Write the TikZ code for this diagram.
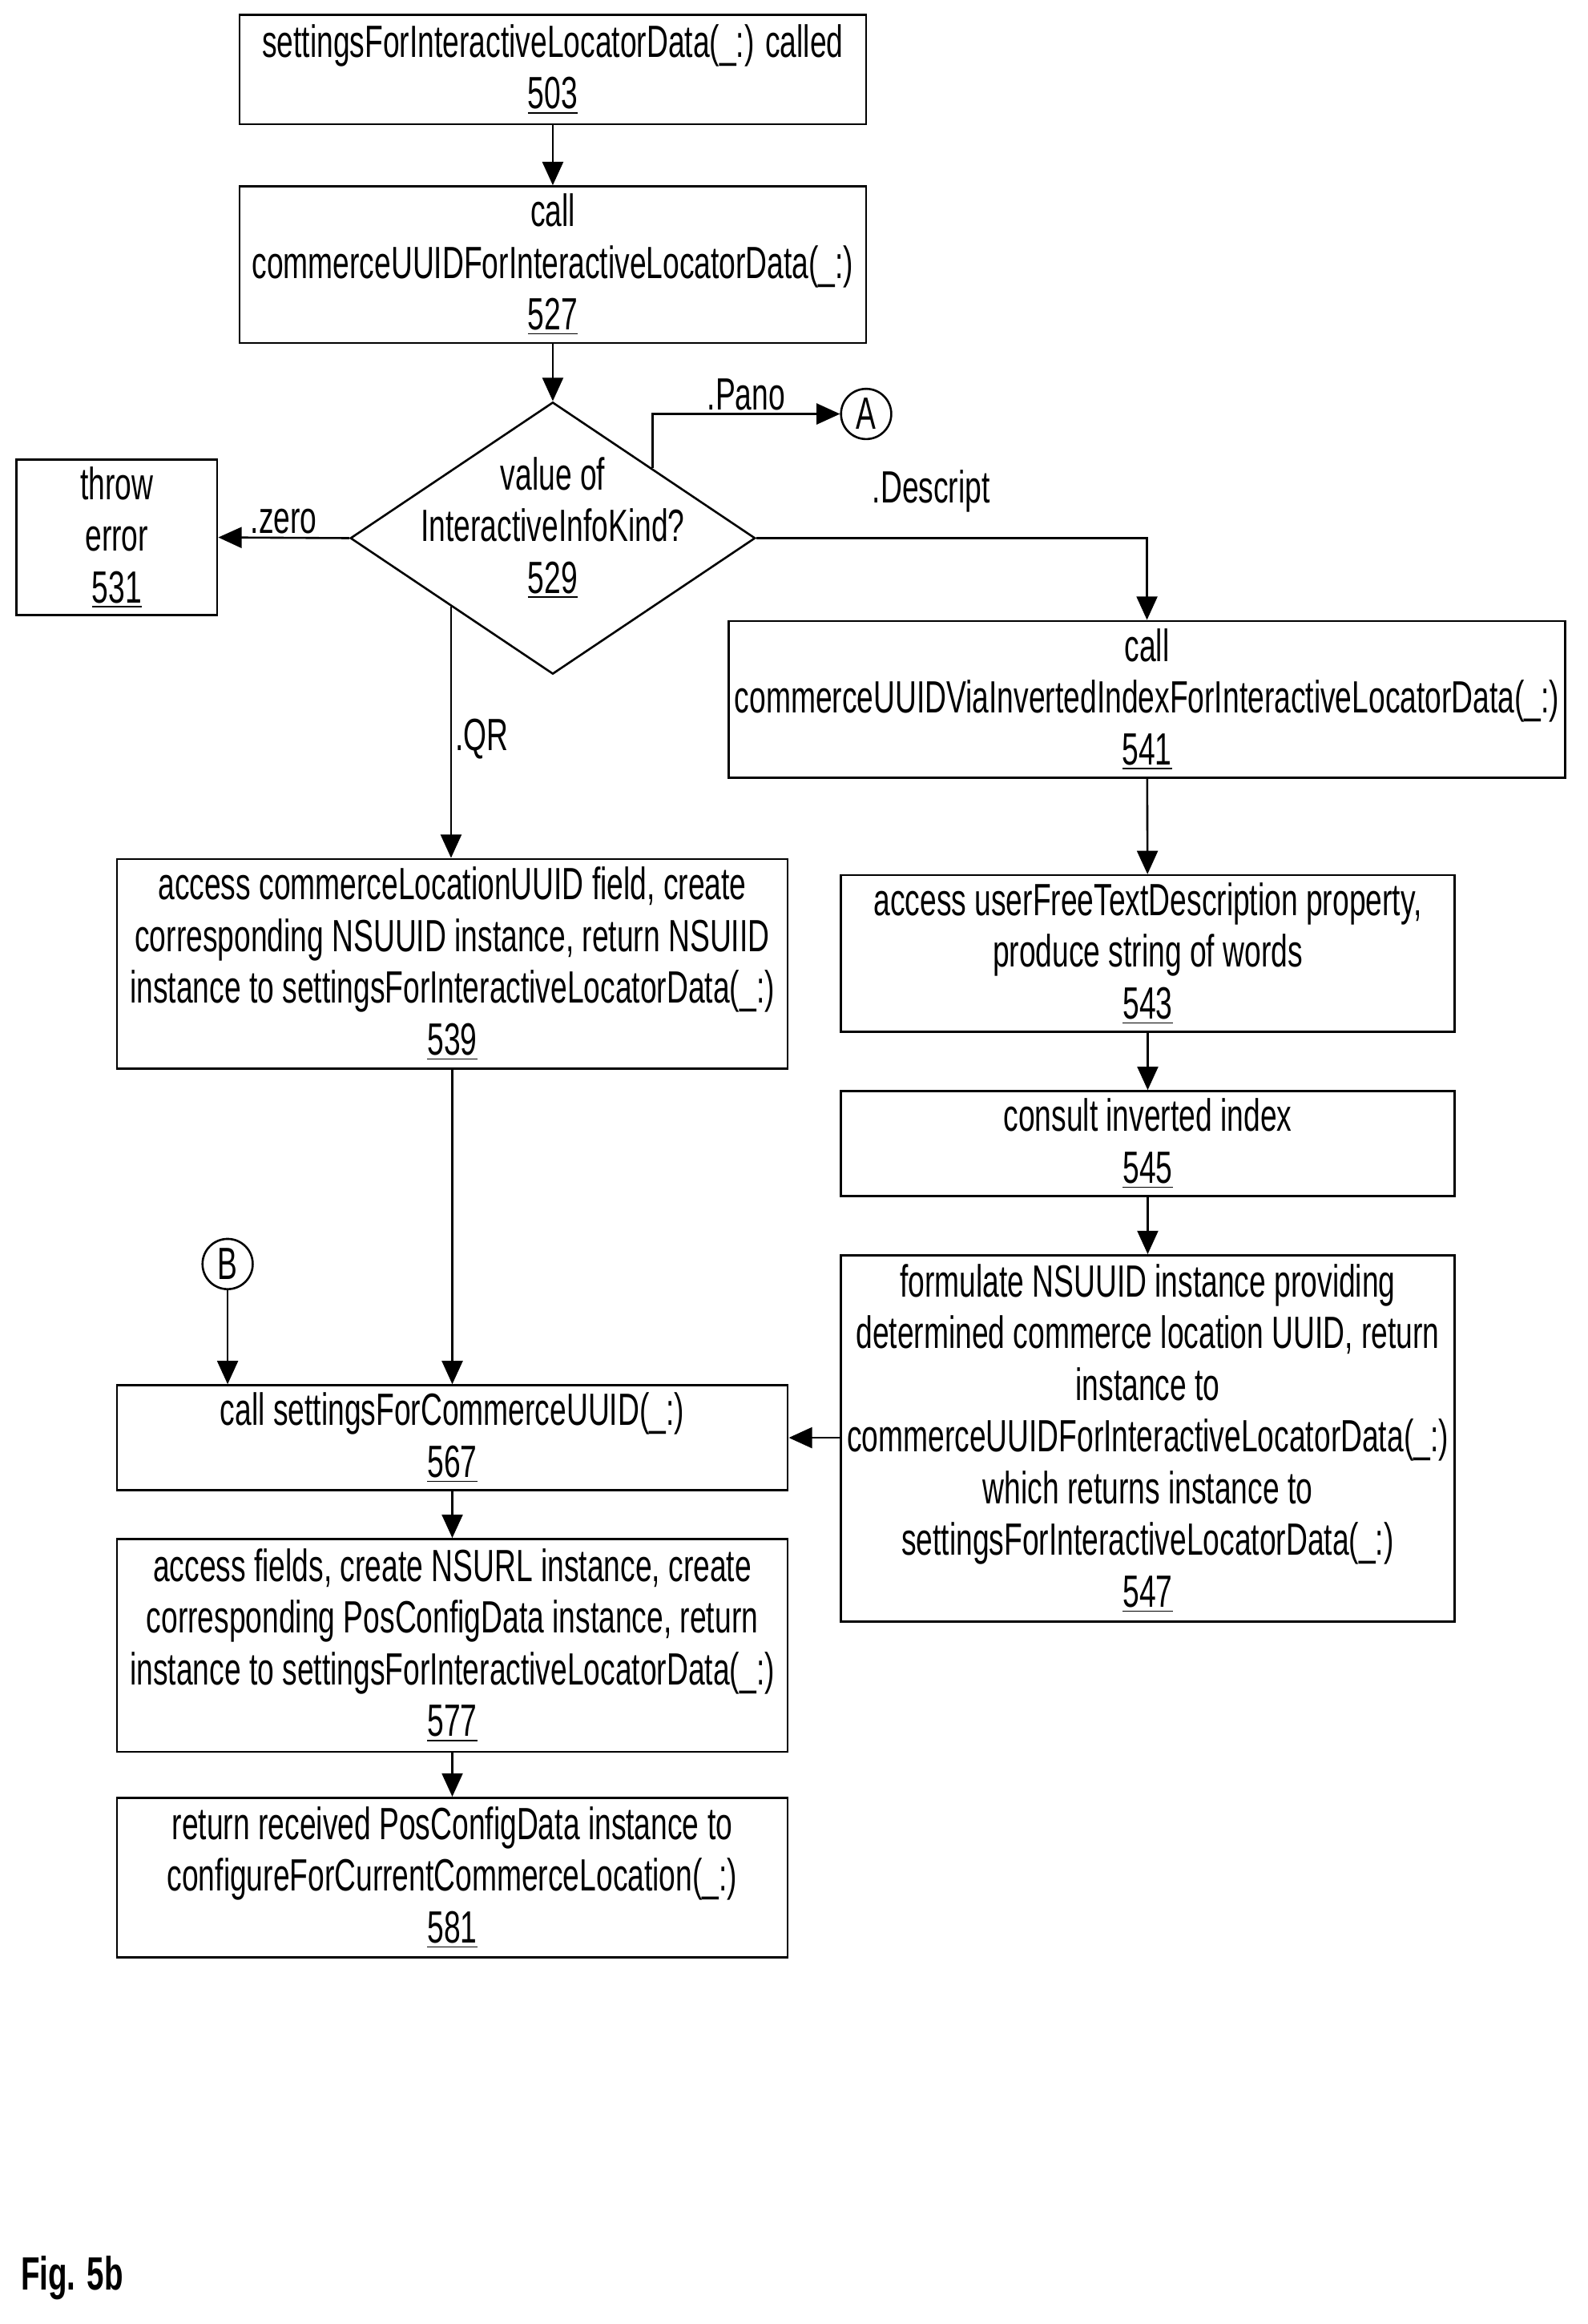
\documentclass[tikz,border=0pt]{standalone}
\usepackage{fontspec}
\setmainfont[FakeStretch=0.66]{Liberation Sans}
\usetikzlibrary{shapes,arrows.meta,calc,positioning}

\begin{document}
\begin{tikzpicture}[x=0.02cm,y=-0.02cm,font=\fontsize{17.4}{19.9}\selectfont]
            \tikzstyle{block} = [draw,thick,align=center,inner sep=0pt]
            \tikzstyle{conn} = [circle,draw,thick,minimum size=0.68cm,inner sep=0pt]
            \tikzstyle{flow} = [thick,-{Triangle[length=9pt,width=8pt]}]
            \tikzstyle{lbl} = [inner sep=1pt]
		\useasboundingbox (0,0) rectangle (1074,1572);
		% Top
		\node[block,minimum width=8.48cm,minimum height=1.48cm] (b503) at (374,47) {settingsForInteractiveLocatorData(\_:) called\\\underline{503}};
		\node[block,minimum width=8.48cm,minimum height=2.12cm] (b527) at (374,179) {call\\commerceUUIDForInteractiveLocatorData(\_:)\\\underline{527}};
		\node[draw,thick,diamond,minimum width=5.48cm,minimum height=3.68cm,inner sep=0pt] (d529) at (374,364) {};
		\node[align=center] (t529) at (374,357) {value of\\InteractiveInfoKind?\\\underline{529}};
		\node[block,minimum width=2.72cm,minimum height=2.1cm] (b531) at (79,363.5) {throw\\error\\\underline{531}};
		\node[conn] (cA) at (586,280) {A};
		% Right branch
		\node[block,minimum width=11.32cm,minimum height=2.12cm] (b541) at (776,473) {call\\commerceUUIDViaInvertedIndexForInteractiveLocatorData(\_:)\\\underline{541}};
		\node[block,minimum width=8.3cm,minimum height=2.12cm] (b543) at (776.5,645) {access userFreeTextDescription property,\\produce string of words\\\underline{543}};
		\node[block,minimum width=8.3cm,minimum height=1.42cm] (b545) at (776.5,773.5) {consult inverted index\\\underline{545}};
		\node[block,minimum width=8.3cm,minimum height=4.96cm] (b547) at (776.5,973) {formulate NSUUID instance providing\\determined commerce location UUID, return\\instance to\\commerceUUIDForInteractiveLocatorData(\_:)\\which returns instance to\\settingsForInteractiveLocatorData(\_:)\\\underline{547}};
		% Left branch
		\node[block,minimum width=9.08cm,minimum height=2.84cm] (b539) at (306,652) {access commerceLocationUUID field, create\\corresponding NSUUID instance, return NSUIID\\instance to settingsForInteractiveLocatorData(\_:)\\\underline{539}};
		\node[conn] (cB) at (154,855) {B};
		\node[block,minimum width=9.08cm,minimum height=1.42cm] (b567) at (306,972.5) {call settingsForCommerceUUID(\_:)\\\underline{567}};
		\node[block,minimum width=9.08cm,minimum height=2.88cm] (b577) at (306,1113) {access fields, create NSURL instance, create\\corresponding PosConfigData instance, return\\instance to settingsForInteractiveLocatorData(\_:)\\\underline{577}};
		\node[block,minimum width=9.08cm,minimum height=2.16cm] (b581) at (306,1270) {return received PosConfigData instance to\\configureForCurrentCommerceLocation(\_:)\\\underline{581}};
		\node[anchor=west,font=\fontsize{18}{20}\selectfont\bfseries] (fig) at (8,1541) {Fig. 5b};
		% Connectors
		\draw[flow] (b503) -- (b527);
		\draw[flow] (b527) -- (d529);
		\draw[flow] (d529.west) -- node[lbl,above] {.zero} (b531.east);
		\coordinate (pano) at ($(d529.north)!0.49!(d529.east)$);
		\draw[flow] (pano) |- node[lbl,above,pos=0.75] {.Pano} (cA);
		\draw[flow] (d529.east) -| (b541.north);
		\node[lbl] (ldesc) at (630,332) {.Descript};
		\coordinate (qr) at ($(d529.west)!0.5!(d529.south)$);
		\draw[flow] (qr) -- (qr |- b539.north);
		\node[lbl] (lqr) at (326,500) {.QR};
		\draw[flow] (b541) -- (b543);
		\draw[flow] (b543) -- (b545);
		\draw[flow] (b545) -- (b547);
		\draw[flow] (b547.west |- b567.east) -- (b567.east);
		\draw[flow] (b539) -- (b567);
		\draw[flow] (cB) -- (cB |- b567.north);
		\draw[flow] (b567) -- (b577);
		\draw[flow] (b577) -- (b581);
\end{tikzpicture}
\end{document}
